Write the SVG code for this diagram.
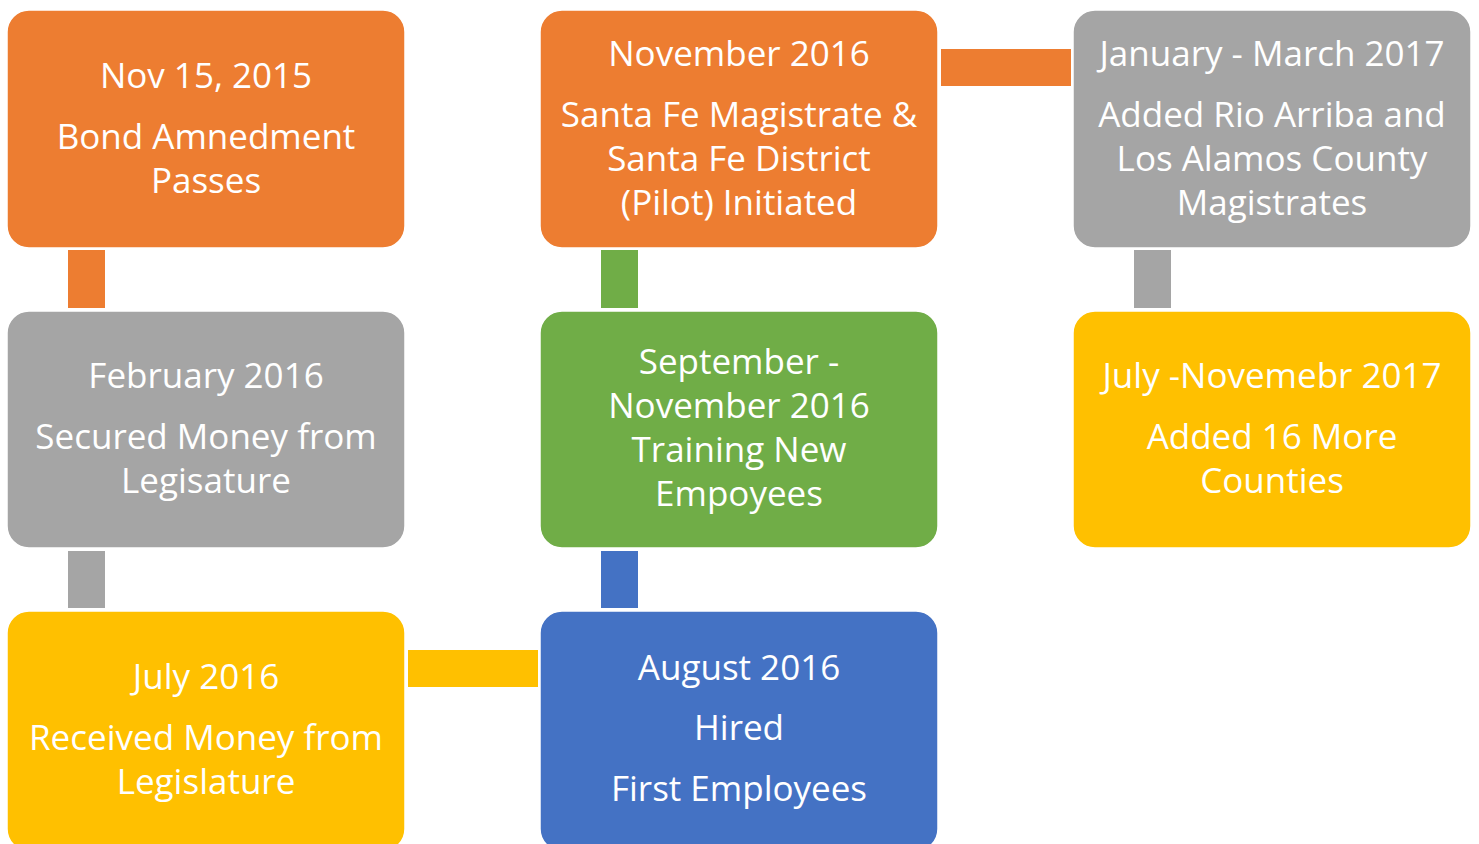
<svg xmlns="http://www.w3.org/2000/svg" width="1479" height="844" viewBox="0 0 1479 844">
<style>
.box{stroke:#ffffff;stroke-width:1.5}
.t{font-family:"Open Sans","Noto Sans","Liberation Sans",sans-serif;font-size:35px;fill:#ffffff;text-anchor:middle}
.orange{fill:#ED7D31}.gray{fill:#A5A5A5}.green{fill:#70AD47}.yellow{fill:#FFC000}.blue{fill:#4472C4}
</style>
<rect width="1479" height="844" fill="#ffffff"/>
<g id="connectors">
<rect class="orange" x="68" y="250" width="37" height="58"/>
<rect class="gray" x="68" y="551" width="37" height="57"/>
<rect class="yellow" x="408" y="650" width="130" height="37"/>
<rect class="blue" x="601" y="551" width="37" height="57"/>
<rect class="green" x="601" y="250" width="37" height="58"/>
<rect class="orange" x="941" y="49" width="130" height="37"/>
<rect class="gray" x="1134" y="250" width="37" height="58"/>
</g>
<g id="node1">
<rect class="box orange" x="7" y="10" width="398" height="238" rx="22"/>
<text class="t" x="206" y="88">Nov 15, 2015</text>
<text class="t" x="206" y="149">Bond Amnedment</text>
<text class="t" x="206" y="193">Passes</text>
</g>
<g id="node2">
<rect class="box orange" x="540" y="10" width="398" height="238" rx="22"/>
<text class="t" x="739" y="66">November 2016</text>
<text class="t" x="739" y="127">Santa Fe Magistrate &amp;</text>
<text class="t" x="739" y="171">Santa Fe District</text>
<text class="t" x="739" y="215">(Pilot) Initiated</text>
</g>
<g id="node3">
<rect class="box gray" x="1073" y="10" width="398" height="238" rx="22"/>
<text class="t" x="1272" y="66">January - March 2017</text>
<text class="t" x="1272" y="127">Added Rio Arriba and</text>
<text class="t" x="1272" y="171">Los Alamos County</text>
<text class="t" x="1272" y="215">Magistrates</text>
</g>
<g id="node4">
<rect class="box gray" x="7" y="311" width="398" height="237" rx="22"/>
<text class="t" x="206" y="388">February 2016</text>
<text class="t" x="206" y="449">Secured Money from</text>
<text class="t" x="206" y="493">Legisature</text>
</g>
<g id="node5">
<rect class="box green" x="540" y="311" width="398" height="237" rx="22"/>
<text class="t" x="739" y="374">September -</text>
<text class="t" x="739" y="418">November 2016</text>
<text class="t" x="739" y="462">Training New</text>
<text class="t" x="739" y="506">Empoyees</text>
</g>
<g id="node6">
<rect class="box yellow" x="1073" y="311" width="398" height="237" rx="22"/>
<text class="t" x="1272" y="388">July -Novemebr 2017</text>
<text class="t" x="1272" y="449">Added 16 More</text>
<text class="t" x="1272" y="493">Counties</text>
</g>
<g id="node7">
<rect class="box yellow" x="7" y="611" width="398" height="240" rx="22"/>
<text class="t" x="206" y="689">July 2016</text>
<text class="t" x="206" y="750">Received Money from</text>
<text class="t" x="206" y="794">Legislature</text>
</g>
<g id="node8">
<rect class="box blue" x="540" y="611" width="398" height="240" rx="22"/>
<text class="t" x="739" y="680">August 2016</text>
<text class="t" x="739" y="740">Hired</text>
<text class="t" x="739" y="801">First Employees</text>
</g>
</svg>
